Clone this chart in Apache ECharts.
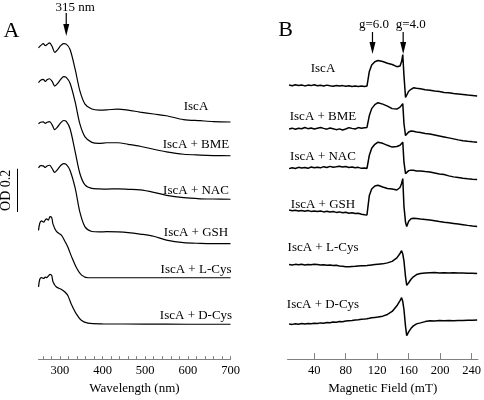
<!DOCTYPE html>
<html><head><meta charset="utf-8">
<script src="https://cdn.jsdelivr.net/npm/echarts@6/dist/echarts.min.js"></script>
<style>html,body{margin:0;padding:0;background:#fff}#c{width:484px;height:400px}</style>
</head><body><div id="c"></div>
<script>
// ---------- Panel A: UV-visible spectra (OD) ----------
const wlA = [250,255,261,266,270,276,282,288,295,302,309,315,324,336,347,359,375,392,410,436,460,488,520,550,590,629,660,700];
const odIscA = [0.343,0.353,0.362,0.353,0.358,0.366,0.349,0.322,0.335,0.353,0.362,0.360,0.335,0.243,0.144,0.083,0.060,0.055,0.056,0.060,0.055,0.046,0.037,0.029,0.011,0.006,0.002,0.000];
const odBME  = [0.338,0.349,0.353,0.344,0.351,0.356,0.344,0.322,0.335,0.353,0.366,0.362,0.335,0.248,0.147,0.087,0.062,0.057,0.060,0.060,0.053,0.044,0.030,0.018,0.007,0.003,0.001,0.000];
const odNAC  = [0.349,0.356,0.358,0.351,0.356,0.359,0.344,0.322,0.335,0.353,0.364,0.360,0.326,0.219,0.119,0.066,0.050,0.048,0.047,0.048,0.046,0.043,0.032,0.018,0.007,0.002,0.001,0.000];
const odGSH  = [0.350,0.360,0.359,0.352,0.359,0.362,0.347,0.329,0.343,0.361,0.370,0.366,0.338,0.256,0.145,0.077,0.056,0.054,0.055,0.054,0.051,0.044,0.034,0.016,0.004,0.001,0.000,0.000];
const wlCys = [250,253,257,262,266,269,273,277,281,284,292,304,312,319,327,339,351,366,400,500,600,700];
const odLCys = [0.219,0.252,0.263,0.257,0.268,0.272,0.266,0.283,0.278,0.248,0.214,0.196,0.168,0.141,0.100,0.046,0.012,0.000,0.000,0.000,0.000,0.000];
const odDCys = [0.173,0.208,0.216,0.212,0.218,0.216,0.223,0.231,0.225,0.197,0.172,0.161,0.149,0.132,0.093,0.047,0.017,0.005,0.002,0.001,0.000,0.000];
const uvOffsets = [1.096, 0.940, 0.739, 0.534, 0.376, 0.161];
const sampleNames = ['IscA','IscA + BME','IscA + NAC','IscA + GSH','IscA + L-Cys','IscA + D-Cys'];
const uvTicks = [260,280,300,320,340,360,380,400,420,440,460,480,500,520,540,560,580,600,620,640,660,680,700];
const uvLabels = [300,400,500,600,700];
const arrowNm = 315;
const odBarBase = 0.68, odBar = 0.2;

// ---------- Panel B: EPR spectra (a.u.) ----------
const eprField = [8,12,16,20,24,28,32,36,40,44,48,52,56,60,64,68,72,76,80,84,88,92,96,100,104,
  107,110,113,117,121,127,133,139,145,149,151,152.5,154,156,157.5,160,163,166,170,175,
  181,187,193,199,205,211,217,223,229,235,241,247];
const eprIscA = [0.3,-0.4,0.6,-0.2,0.4,-0.6,0.2,-0.3,0.5,-0.5,0.1,-0.7,0.2,-0.4,-0.9,-0.1,-0.8,-0.3,-1.0,-0.5,-1.2,-0.6,-1.1,-0.7,-1.3,
  -0.8,14,20.5,23.8,25,24,22.3,21,18.8,19.5,24,31,10,-12.3,-11,-6,-4,-2.5,-3,-3.5,
  -4.5,-5,-5.8,-6.3,-7.2,-7.6,-8.3,-8.7,-9.2,-9.8,-10.2,-10.7];
const eprBME = [-0.5,0.3,-0.8,0.2,-0.3,0.9,-0.2,0.4,-0.6,0.3,1.0,0.1,-0.7,0.4,-0.3,-1.2,-0.4,-1.5,-0.6,0.8,0.1,-0.5,0.9,0.2,0.7,
  1,13,20,24,26,24.5,22.5,20,19.5,21.5,23.5,25,5,-7.2,-6,-3.5,-2.5,-2.8,-3.5,-4,
  -5,-5.5,-6.5,-7.5,-8.5,-9.5,-10.5,-11.5,-12.3,-13,-13.5,-13.8];
const eprNAC = [-0.5,0.4,-0.3,0.8,0.1,0.6,-0.2,1.2,0.4,1.0,0.3,1.5,0.6,1.8,0.9,1.4,2.0,1.1,1.6,0.7,1.2,0.3,0.8,-0.2,0.2,
  -0.3,13,20,24,26.2,25,23,21.2,21.8,23,25,26.2,6,-5.5,-4.5,-2.5,-2,-2.2,-2.8,-3,
  -3.5,-3.8,-4.8,-5.8,-6.5,-7.8,-8.8,-9.5,-10.2,-10.8,-11.2,-11.5];
const eprGSH = [1.3,0.5,1.1,0.3,0.9,0.1,0.7,-0.1,0.4,-0.3,0.2,-0.6,0,-0.8,-0.3,-1.1,-0.6,-1.5,-1.0,-1.9,-1.4,-2.3,-2.0,-2.9,-3.4,
  -3.7,16,22.5,25.5,26.3,24.5,23,22.5,21.5,24,28,33,5,-11,-15.3,-10,-7.5,-7,-7.3,-7.8,
  -8.2,-8.7,-9.5,-10.3,-11,-11.6,-12.2,-12.8,-13.5,-14.2,-14.8,-15.3];
const eprLCys = [0.3,-0.2,0.5,0.1,0.6,-0.1,0.4,0,0.5,0.3,-0.2,0.2,-0.5,-0.1,-0.7,-0.4,-1.1,-1.4,-1.8,-2.0,-1.7,-1.5,-1.2,-1.0,-0.8,
  -0.7,-0.4,-0.1,0.3,0.6,1.0,2.0,3.5,7,11.5,14.3,11,4,-12,-20.7,-18,-14.5,-12,-9.8,-8.8,
  -8.3,-8,-7.8,-8.2,-7.9,-8.1,-8,-8.3,-8.2,-8.5,-8.4,-8.7];
const eprDCys = [0.3,0,0.6,0.2,0.8,0.4,0.9,0.6,1.1,0.8,1.5,1.2,1.9,1.6,2.3,2.2,2.8,2.6,3.3,3.7,3.9,4.4,4.6,5.1,5.4,
  5.7,6.1,6.6,7.0,7.4,8.3,10,13,18.7,24,27,23,15,-2,-11.3,-7.5,-4,-1.5,0.5,1.5,
  2.8,3.7,3.5,3.9,3.6,3.8,3.7,4.0,3.9,4.2,4.1,4.3];
const eprOffsets = [276, 232.5, 192.5, 149, 95, 35];
const eprTicks = [40,80,120,160,200,240];
const gMarks = [{label:'g=6.0', field:114}, {label:'g=4.0', field:153}];

const FONT = '"Liberation Serif", "Times New Roman", Times, serif';
const uvSets = [[wlA,odIscA],[wlA,odBME],[wlA,odNAC],[wlA,odGSH],[wlCys,odLCys],[wlCys,odDCys]];
const eprSets = [eprIscA,eprBME,eprNAC,eprGSH,eprLCys,eprDCys];

const chart = echarts.init(document.getElementById('c'), null, {renderer:'canvas'});
const series = [];
uvSets.forEach(([xs, ys], k) => {
  series.push({type:'line', xAxisIndex:0, yAxisIndex:0, name:'UV ' + sampleNames[k],
    data: xs.map((x,i)=>[x, uvOffsets[k] + ys[i]]), showSymbol:false, smooth:0.3,
    lineStyle:{color:'#000', width:1.2}, silent:true});
});
eprSets.forEach((ys, k) => {
  series.push({type:'line', xAxisIndex:1, yAxisIndex:1, name:'EPR ' + sampleNames[k],
    data: eprField.map((x,i)=>[x, eprOffsets[k] + ys[i]]), showSymbol:false, smooth:false,
    lineStyle:{color:'#000', width:1.5}, silent:true});
});
const axisColor = '#808080';
function xAx(grid, min, max, ticks, labels, tickLen, name) {
  return {type:'value', gridIndex:grid, min:min, max:max,
    axisLine:{show:true, lineStyle:{color:axisColor, width:1}},
    axisTick:{show:true, inside:true, length:tickLen, customValues:ticks, lineStyle:{color:axisColor, width:1}},
    axisLabel:{customValues:labels, color:'#000', fontFamily:FONT, fontSize:12.5, margin:5},
    splitLine:{show:false},
    name:name, nameLocation:'middle', nameGap:21,
    nameTextStyle:{color:'#000', fontFamily:FONT, fontSize:13}};
}
chart.setOption({
  animation:false,
  backgroundColor:'#fff',
  grid:[{left:38.5, width:192, top:0, height:362},{left:287.5, width:195.7, top:0, height:362}],
  xAxis:[xAx(0,250,700,uvTicks,uvLabels,3,'Wavelength (nm)'), xAx(1,6,248,eprTicks,eprTicks,6,'Magnetic Field (mT)')],
  yAxis:[{type:'value', gridIndex:0, min:0, max:1.66, show:false},{type:'value', gridIndex:1, min:0, max:362, show:false}],
  series:series
});

function txt(t, x, y, size, align, rot) {
  return {type:'text', x:x, y:y, rotation:rot||0, silent:true,
    style:{text:t, x:0, y:0, font:size + 'px ' + FONT, fill:'#000',
      align:align||'center', verticalAlign:'middle', textAlign:align||'center', textVerticalAlign:'middle'}};
}
function arrow(x, y1, y2) {
  return [{type:'line', silent:true, shape:{x1:x, y1:y1, x2:x, y2:y2-6}, style:{stroke:'#000', lineWidth:1.2}},
    {type:'polygon', silent:true, shape:{points:[[x-3,y2-12],[x+3,y2-12],[x,y2]]}, style:{fill:'#000'}}];
}
const g = [];
g.push(txt('A', 11.5, 31, 22));
g.push(txt('B', 285.5, 30, 22));
const ax = chart.convertToPixel({xAxisIndex:0}, arrowNm);
g.push(txt(arrowNm + ' nm', ax + 9, 8, 13));
g.push(...arrow(ax, 13, 36));
const gTextShift = [1.5, 7.5];
gMarks.forEach((m, i) => {
  const px = chart.convertToPixel({xAxisIndex:1}, m.field);
  g.push(txt(m.label, px + gTextShift[i], 25, 13));
  g.push(...arrow(px, 32, 54));
});
const yb1 = chart.convertToPixel({yAxisIndex:0}, odBarBase);
const yb2 = chart.convertToPixel({yAxisIndex:0}, odBarBase + odBar);
g.push({type:'line', silent:true, shape:{x1:17.5, y1:yb1, x2:17.5, y2:yb2}, style:{stroke:'#000', lineWidth:1}});
g.push(txt('OD ' + odBar, 6.5, (yb1 + yb2) / 2, 14, 'center', Math.PI / 2));
const uvLabY = [107, 145, 190.5, 233, 270, 316];
const eprLabY = [68.5, 116.5, 156.5, 204.5, 247.5, 305];
sampleNames.forEach((n, k) => {
  g.push(txt(n, 196, uvLabY[k], 13));
  g.push(txt(n, 323, eprLabY[k], 13));
});
chart.setOption({graphic:{elements:g}});
</script>
</body></html>
